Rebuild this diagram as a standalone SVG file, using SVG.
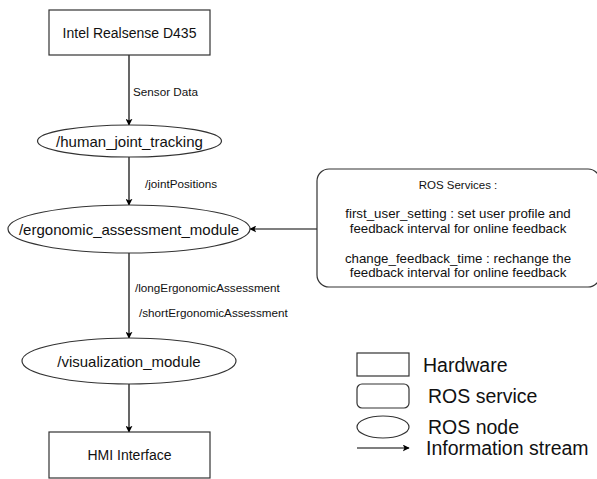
<svg xmlns="http://www.w3.org/2000/svg" width="597" height="479" viewBox="0 0 597 479">
<style>
.s{fill:#fff;stroke:#333;stroke-width:1.2}
text{font-family:"Liberation Sans",Arial,sans-serif;fill:#111}
.n{font-size:15px;text-anchor:middle;dominant-baseline:central}
.l{font-size:11.7px;dominant-baseline:central}
.r{font-size:13.3px;text-anchor:middle;dominant-baseline:central}
.g{font-size:19.5px;dominant-baseline:central}
.c{stroke:#000;stroke-width:1.2;fill:none;marker-end:url(#a)}
</style>
<defs><marker id="a" viewBox="0 0 10 10" refX="9" refY="5" markerWidth="7" markerHeight="7" markerUnits="userSpaceOnUse" orient="auto"><path d="M0,0 L10,5 L0,10 L2.5,5 Z" fill="#000"/></marker></defs>
<rect width="597" height="479" fill="#fff"/>
<g id="connectors">
<line class="c" x1="129" y1="55" x2="129" y2="125"/>
<line class="c" x1="129" y1="157" x2="129" y2="205"/>
<line class="c" x1="317" y1="229" x2="250" y2="229"/>
<line class="c" x1="129" y1="253" x2="129" y2="338"/>
<line class="c" x1="129" y1="384" x2="129" y2="432"/>
<text class="l" x="133" y="91">Sensor Data</text>
<text class="l" x="145" y="183">/jointPositions</text>
<text class="l" x="135" y="287">/longErgonomicAssessment</text>
<text class="l" x="139" y="312">/shortErgonomicAssessment</text>
</g>
<g id="realsense"><rect class="s" x="49" y="10" width="161" height="45"/><text class="n" x="129.5" y="33" style="font-size:14px">Intel Realsense D435</text></g>
<g id="human_joint_tracking"><ellipse class="s" cx="129.5" cy="141" rx="92" ry="16"/><text class="n" x="129.5" y="141">/human_joint_tracking</text></g>
<g id="ergonomic_assessment_module"><ellipse class="s" cx="129" cy="229" rx="121" ry="24"/><text class="n" x="129" y="229">/ergonomic_assessment_module</text></g>
<g id="visualization_module"><ellipse class="s" cx="129" cy="361" rx="107" ry="23"/><text class="n" x="129" y="361">/visualization_module</text></g>
<g id="hmi"><rect class="s" x="49" y="432" width="161" height="46"/><text class="n" x="129.5" y="455" style="font-size:14px">HMI Interface</text></g>
<g id="ros_services"><rect class="s" x="317" y="169" width="283" height="118" rx="12"/>
<text class="r" x="458" y="185" style="font-size:11.5px">ROS Services :</text>
<text class="r" x="458" y="213">first_user_setting : set user profile and</text>
<text class="r" x="458" y="228">feedback interval for online feedback</text>
<text class="r" x="458" y="258">change_feedback_time : rechange the</text>
<text class="r" x="458" y="272">feedback interval for online feedback</text></g>
<g id="legend">
<rect class="s" x="357" y="353" width="52" height="23"/><text class="g" x="423" y="365">Hardware</text>
<rect class="s" x="357" y="384" width="52" height="24" rx="5"/><text class="g" x="428" y="396">ROS service</text>
<ellipse class="s" cx="383" cy="427" rx="26" ry="11"/><text class="g" x="428" y="427">ROS node</text>
<line class="c" x1="357" y1="448" x2="409" y2="448"/><text class="g" x="426" y="448">Information stream</text>
</g>
</svg>
